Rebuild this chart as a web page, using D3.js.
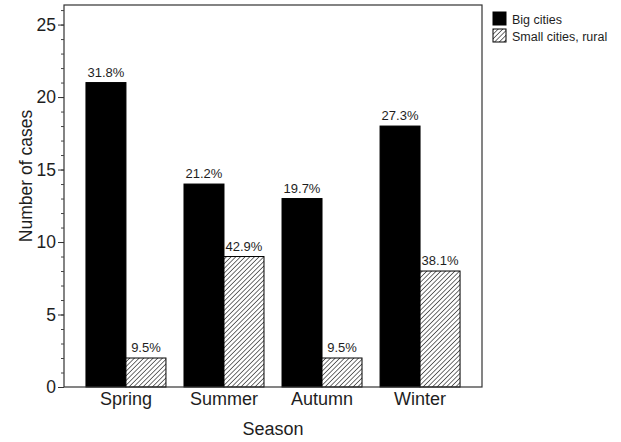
<!DOCTYPE html>
<html>
<head>
<meta charset="utf-8">
<script src="https://cdn.jsdelivr.net/npm/d3@7"></script>
<style>
  body { margin: 0; background: #fff; }
  svg { display: block; font-family: "Liberation Sans", Arial, sans-serif; }
</style>
</head>
<body>
<div id="chart"></div>
<script>
// values
const seasons = ["Spring", "Summer", "Autumn", "Winter"];
const bigCities = [21, 14, 13, 18];
const smallCities = [2, 9, 2, 8];
const bigPct = ["31.8%", "21.2%", "19.7%", "27.3%"];
const smallPct = ["9.5%", "42.9%", "9.5%", "38.1%"];
const seriesNames = ["Big cities", "Small cities, rural"];
const majorTicks = [0, 5, 10, 15, 20, 25];

const W = 621, H = 442;
const plot = { left: 64, top: 5, right: 482, bottom: 387 };
const ink = "#1e1e1e";

const svg = d3.select("#chart").append("svg")
  .attr("width", W)
  .attr("height", H);

svg.append("rect").attr("width", W).attr("height", H).attr("fill", "#fff");

// hatch for the second series
svg.append("defs").append("pattern")
  .attr("id", "hatch")
  .attr("patternUnits", "userSpaceOnUse")
  .attr("width", 3.3)
  .attr("height", 3.3)
  .attr("patternTransform", "rotate(45)")
  .call(p => {
    p.append("rect").attr("width", 3.3).attr("height", 3.3).attr("fill", "#fff");
    p.append("line").attr("x1", 0).attr("y1", 0).attr("x2", 0).attr("y2", 3.3)
      .attr("stroke", "#222").attr("stroke-width", 1.3);
  });

const x = d3.scaleBand()
  .domain(seasons)
  .range([plot.left, plot.right])
  .paddingInner(0.184)
  .paddingOuter(0.224);

const xSub = d3.scaleBand()
  .domain(seriesNames)
  .range([0, x.bandwidth()]);

const y = d3.scaleLinear()
  .domain([0, 26.35])
  .range([plot.bottom, plot.top]);

const rows = seasons.map((s, i) => ({
  season: s,
  vals: [
    { key: seriesNames[0], v: bigCities[i], pct: bigPct[i] },
    { key: seriesNames[1], v: smallCities[i], pct: smallPct[i] }
  ]
}));

const groups = svg.append("g").selectAll("g")
  .data(rows)
  .join("g")
  .attr("transform", d => `translate(${x(d.season)},0)`);

groups.selectAll("rect")
  .data(d => d.vals)
  .join("rect")
  .attr("x", d => xSub(d.key))
  .attr("y", d => y(d.v))
  .attr("width", xSub.bandwidth())
  .attr("height", d => y(0) - y(d.v))
  .attr("fill", d => d.key === seriesNames[0] ? "#000" : "url(#hatch)")
  .attr("stroke", "#000")
  .attr("stroke-width", 1);

groups.selectAll("text")
  .data(d => d.vals)
  .join("text")
  .attr("x", d => xSub(d.key) + xSub.bandwidth() / 2)
  .attr("y", d => y(d.v) - 6)
  .attr("text-anchor", "middle")
  .attr("font-size", 13)
  .attr("fill", ink)
  .text(d => d.pct);

// frame
svg.append("rect")
  .attr("x", plot.left).attr("y", plot.top)
  .attr("width", plot.right - plot.left)
  .attr("height", plot.bottom - plot.top)
  .attr("fill", "none")
  .attr("stroke", "#333")
  .attr("stroke-width", 1.2);

// minor ticks
svg.append("g")
  .attr("transform", `translate(${plot.left},0)`)
  .call(d3.axisLeft(y).tickValues(d3.range(0, 27)).tickSize(3).tickFormat(""))
  .call(g => g.select(".domain").remove())
  .call(g => g.selectAll("line").attr("stroke", "#444"));

// major ticks
svg.append("g")
  .attr("transform", `translate(${plot.left},0)`)
  .call(d3.axisLeft(y).tickValues(majorTicks).tickSize(6).tickPadding(2))
  .call(g => g.select(".domain").remove())
  .call(g => g.selectAll("line").attr("stroke", "#333"))
  .call(g => g.selectAll("text")
    .attr("font-size", 17.5)
    .attr("font-family", "Liberation Sans, Arial, sans-serif")
    .attr("fill", ink));

// category labels
svg.append("g").selectAll("text")
  .data(seasons)
  .join("text")
  .attr("x", d => x(d) + x.bandwidth() / 2)
  .attr("y", 405)
  .attr("text-anchor", "middle")
  .attr("font-size", 18)
  .attr("fill", ink)
  .text(d => d);

// axis titles
svg.append("text")
  .attr("x", (plot.left + plot.right) / 2)
  .attr("y", 435)
  .attr("text-anchor", "middle")
  .attr("font-size", 18)
  .attr("fill", ink)
  .text("Season");

svg.append("text")
  .attr("transform", "translate(32,176) rotate(-90)")
  .attr("text-anchor", "middle")
  .attr("font-size", 17.5)
  .attr("fill", ink)
  .text("Number of cases");

// legend
const legend = svg.append("g").selectAll("g")
  .data(seriesNames)
  .join("g")
  .attr("transform", (d, i) => `translate(493,${12 + i * 17})`);

legend.append("rect")
  .attr("width", 13)
  .attr("height", 13)
  .attr("fill", (d, i) => i === 0 ? "#000" : "url(#hatch)")
  .attr("stroke", "#000");

legend.append("text")
  .attr("x", 19)
  .attr("y", 12)
  .attr("font-size", 12.5)
  .attr("fill", ink)
  .text(d => d);
</script>
</body>
</html>
